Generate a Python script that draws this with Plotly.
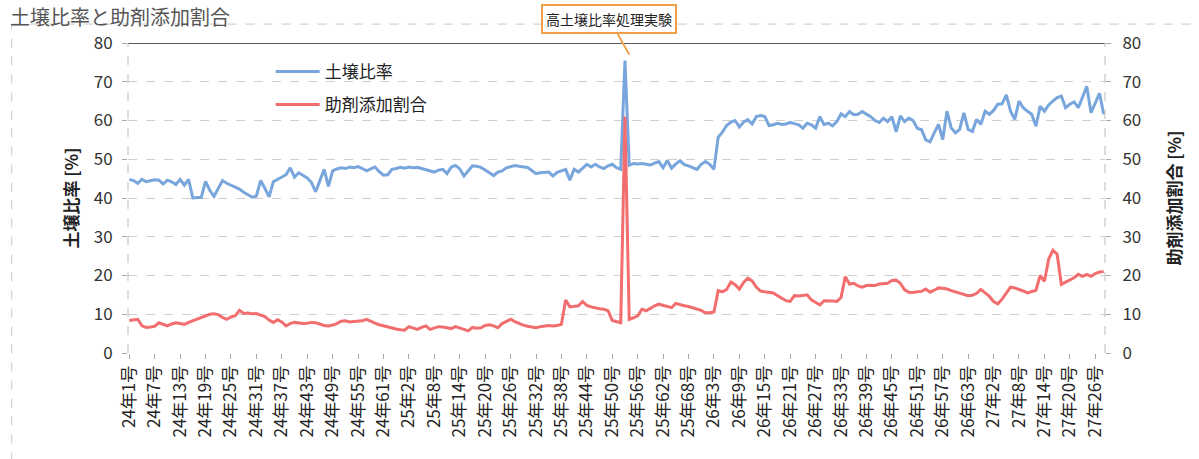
import plotly.graph_objects as go

# Issue numbering: year prefix and number of issues recorded per year
years = ["24", "25", "26", "27"]
issue_counts = [65, 71, 67, 28]
categories = [f"{y}年{n}号" for y, c in zip(years, issue_counts) for n in range(1, c + 1)]
tick_labels = categories[::6]

# 土壌比率 [%]
soil_ratio = [
    44.8, 44.5, 43.8, 44.8, 44.2, 44.5, 44.7, 44.6, 43.6, 44.6,
    44.2, 43.5, 44.8, 43.3, 44.8, 40.0, 40.1, 40.2, 44.3, 42.0,
    40.4, 42.5, 44.5, 43.8, 43.3, 42.8, 42.3, 41.5, 40.8, 40.2,
    40.5, 44.5, 42.5, 40.3, 44.2, 44.8, 45.3, 46.0, 47.8, 45.4,
    46.5, 45.8, 45.2, 44.0, 41.6, 44.5, 47.4, 43.0, 47.0, 47.5,
    47.8, 47.6, 48.0, 47.8, 48.1, 47.6, 47.0, 47.5, 48.0, 46.8,
    45.9, 46.0, 47.4, 47.6, 47.9, 47.7, 48.0, 47.8, 47.9, 47.6,
    47.3, 46.9, 46.7, 47.2, 47.4, 46.3, 48.0, 48.4, 47.5, 45.7,
    47.0, 48.3, 48.2, 47.9, 47.2, 46.5, 45.8, 46.7, 47.0, 47.8,
    48.1, 48.4, 48.2, 48.0, 47.9, 47.1, 46.3, 46.5, 46.6, 46.7,
    45.7, 46.6, 47.0, 47.4, 44.6, 47.4, 46.7, 47.8, 48.7, 48.0,
    48.7, 48.0, 47.6, 48.3, 48.7, 47.8, 47.4, 75.5, 48.5, 48.9,
    48.8, 48.9, 48.7, 48.5, 49.0, 49.4, 47.8, 49.7, 47.7, 48.8,
    49.6, 48.6, 48.3, 47.8, 47.4, 48.7, 49.4, 48.7, 47.4, 55.7,
    57.0, 58.7, 59.6, 60.0, 58.3, 59.6, 60.2, 59.1, 61.0, 61.3,
    61.0, 58.7, 58.9, 59.3, 59.0, 59.1, 59.5, 59.2, 58.9, 58.0,
    59.3, 58.9, 58.0, 61.0, 58.9, 59.3, 58.6, 59.7, 61.7, 61.0,
    62.3, 61.5, 61.6, 62.3, 61.7, 61.0, 60.0, 59.5, 60.6, 59.7,
    61.0, 57.1, 61.2, 59.7, 60.6, 60.0, 58.0, 57.6, 55.0, 54.5,
    56.8, 59.0, 55.1, 62.4, 58.1, 56.8, 57.7, 62.0, 57.7, 57.2,
    60.3, 59.0, 62.4, 61.6, 62.6, 64.2, 64.3, 66.6, 62.4, 60.3,
    65.0, 63.3, 62.4, 61.6, 58.5, 63.7, 62.4, 64.0, 65.0, 65.9,
    66.3, 63.3, 64.2, 64.8, 63.3, 65.9, 68.8, 62.0, 64.6, 67.0, 61.6,
]

# 助剤添加割合 [%]
additive_ratio = [
    8.4, 8.6, 8.7, 7.0, 6.6, 6.7, 6.9, 7.8, 7.3, 7.0,
    7.5, 7.8, 7.6, 7.4, 7.9, 8.3, 8.6, 9.1, 9.5, 10.0,
    10.1, 9.9, 9.2, 8.7, 9.3, 9.6, 11.0, 10.2, 10.3, 10.1,
    10.2, 9.8, 9.4, 8.5, 7.9, 8.6, 8.0, 7.0, 7.6, 7.9,
    7.8, 7.6, 7.7, 7.9, 7.8, 7.4, 7.1, 7.0, 7.2, 7.6,
    8.2, 8.3, 8.0, 8.1, 8.2, 8.3, 8.7, 8.1, 7.7, 7.3,
    7.0, 6.8, 6.5, 6.2, 6.0, 5.9, 6.8, 6.4, 6.1, 6.6,
    7.0, 6.1, 6.4, 6.8, 6.7, 6.5, 6.3, 6.8, 6.5, 6.1,
    5.7, 6.6, 6.4, 6.5, 7.1, 7.3, 7.0, 6.5, 7.6, 8.2,
    8.7, 8.1, 7.6, 7.2, 6.9, 6.7, 6.5, 6.8, 7.0, 7.1,
    7.0, 7.1, 7.4, 13.7, 11.9, 12.0, 12.2, 13.3, 12.3, 11.9,
    11.6, 11.4, 11.3, 10.9, 8.4, 8.2, 7.8, 61.0, 8.7, 9.1,
    9.6, 11.3, 10.9, 11.5, 12.2, 12.6, 12.3, 12.0, 11.7, 12.8,
    12.4, 12.2, 12.0, 11.7, 11.5, 11.0, 10.4, 10.4, 10.6, 16.1,
    15.8, 16.4, 18.3, 17.6, 16.5, 18.2, 19.3, 18.6, 17.0, 16.0,
    15.8, 15.7, 15.5, 14.8, 14.2, 13.5, 13.3, 14.8, 14.7, 14.8,
    15.0, 13.7, 13.0, 12.4, 13.5, 13.5, 13.4, 13.3, 14.3, 19.7,
    17.8, 18.0, 17.3, 17.0, 17.4, 17.5, 17.4, 17.8, 17.9, 18.0,
    18.7, 18.8, 18.0, 16.3, 15.7, 15.6, 15.8, 15.9, 16.5, 15.7,
    16.2, 16.8, 16.7, 16.5, 16.1, 15.8, 15.5, 15.1, 14.8, 14.9,
    15.4, 16.4, 15.5, 14.6, 13.3, 12.7, 13.9, 15.5, 17.0, 16.8,
    16.5, 16.0, 15.5, 15.9, 16.2, 20.0, 18.5, 24.2, 26.5, 25.5,
    17.7, 18.3, 18.9, 19.4, 20.3, 19.8, 20.3, 19.8, 20.5, 20.9, 21.0,
]

assert len(soil_ratio) == len(categories) == len(additive_ratio)

FONT = "Noto Sans CJK JP"
BLUE = "#78a6dc"
RED = "#f26e6e"
ORANGE = "#f0a04b"

fig = go.Figure()
fig.add_trace(go.Scatter(
    x=categories, y=soil_ratio, name="土壌比率", mode="lines",
    line=dict(color=BLUE, width=3), legendgroup="a", yaxis="y",
))
fig.add_trace(go.Scatter(
    x=categories, y=additive_ratio, name="助剤添加割合", mode="lines",
    line=dict(color=RED, width=3), legendgroup="b", yaxis="y2",
))

fig.update_layout(
    width=1199, height=459,
    margin=dict(l=128, r=94, t=43, b=106),
    paper_bgcolor="white", plot_bgcolor="white",
    font=dict(family=FONT, color="#333"),
    showlegend=True,
    legend=dict(
        x=0.146, y=0.965, xanchor="left", yanchor="top",
        bgcolor="rgba(0,0,0,0)", font=dict(size=17, color="#222"),
        tracegroupgap=8, itemwidth=44,
    ),
    xaxis=dict(
        type="category", range=[-0.3, len(categories) - 0.7],
        tickmode="array", tickvals=tick_labels, ticktext=tick_labels,
        tickangle=-90, tickfont=dict(size=17, color="#222"),
        ticks="outside", ticklen=5, tickcolor="#aaa",
        showgrid=False, showline=False, zeroline=False,
    ),
    yaxis=dict(
        range=[0, 80], dtick=10, tickfont=dict(size=17, color="#333"),
        ticks="outside", ticklen=5, tickcolor="#aaa", ticklabelstandoff=6,
        showgrid=True, gridcolor="#cfcfcf", griddash="dash", gridwidth=1,
        zeroline=False, showline=False,
        title=dict(text="<b>土壌比率 [%]</b>", font=dict(size=17, color="#222"), standoff=10),
    ),
    yaxis2=dict(
        range=[0, 80], dtick=10, overlaying="y", side="right",
        tickfont=dict(size=17, color="#333"),
        ticks="outside", ticklen=5, tickcolor="#aaa", ticklabelstandoff=8,
        showgrid=False, zeroline=False, showline=False,
        title=dict(text="<b>助剤添加割合 [%]</b>", font=dict(size=17, color="#222"), standoff=28),
    ),
)

# Plot frame: solid top border at 80, dashed side borders, dashed outer frame
fig.add_shape(type="line", xref="paper", yref="y", x0=0, x1=1, y0=80, y1=80,
              line=dict(color="#222", width=1.5))
for xp in (0, 1):
    fig.add_shape(type="line", xref="paper", yref="paper", x0=xp, x1=xp, y0=0, y1=1,
                  line=dict(color="#bbb", width=1, dash="dash"))
fig.add_shape(type="line", xref="paper", yref="paper", x0=-0.119, x1=1.1, y0=1.061, y1=1.061,
              line=dict(color="#c8c8c8", width=1, dash="dash"))
fig.add_shape(type="line", xref="paper", yref="paper", x0=-0.119, x1=-0.119, y0=-0.35, y1=1.061,
              line=dict(color="#c8c8c8", width=1, dash="dash"))

# Chart title
fig.add_annotation(
    text="土壌比率と助剤添加割合", xref="paper", yref="paper",
    x=-0.123, y=1.14, xanchor="left", yanchor="top", showarrow=False,
    font=dict(size=20, color="#555", family=FONT),
)

# Callout for the high soil-ratio run
fig.add_annotation(
    text="高土壌比率処理実験", xref="x", yref="y",
    x=categories[118], y=77, ax=-20, ay=-36,
    showarrow=True, arrowhead=0, arrowwidth=2, arrowcolor=ORANGE, standoff=0,
    bordercolor=ORANGE, borderwidth=2, borderpad=3, bgcolor="white",
    font=dict(size=14, color="#222", family=FONT),
)

fig.write_html("out.html")
